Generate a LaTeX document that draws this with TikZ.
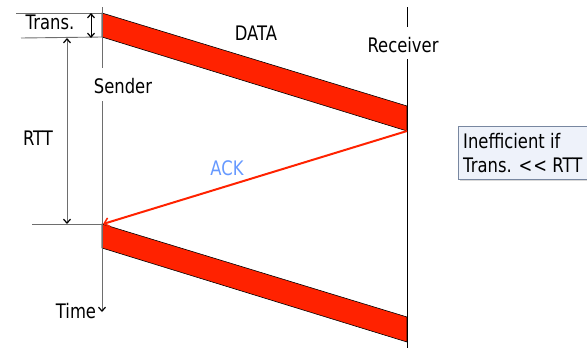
\documentclass[tikz,border=0pt]{standalone}
\usepackage{fontspec}
\setmainfont{DejaVu Sans}[FakeStretch=0.82]
\usetikzlibrary{arrows.meta,shadows}
\definecolor{bandred}{RGB}{255,34,0}
\definecolor{ackblue}{RGB}{102,153,255}
\definecolor{boxfill}{RGB}{238,242,250}
\definecolor{boxline}{RGB}{120,135,160}
\definecolor{axisgrey}{RGB}{110,110,110}
\tikzset{
  lbl/.style={font=\fontsize{20}{24}\selectfont, inner sep=0pt, anchor=base},
  tip/.style={-{Straight Barb[length=4pt,width=7pt,line width=1.2pt,color=black]}},
  tips/.style={{Straight Barb[length=4pt,width=7pt,line width=1.2pt,color=black]}-{Straight Barb[length=4pt,width=7pt,line width=1.2pt,color=black]}},
  band/.style={fill=bandred, draw=black, line width=0.6pt, line join=miter},
  gline/.style={draw=axisgrey, line width=0.9pt},
  bline/.style={draw=black, line width=0.9pt},
}
\begin{document}
\begin{tikzpicture}[x=1pt,y=-1pt]
\useasboundingbox (0,0) rectangle (587,348);
% coordinates
\coordinate (sTop) at (102,7);
\coordinate (sGapA) at (102,68);
\coordinate (sGapB) at (102,101);
\coordinate (sEnd) at (102,312);
\coordinate (rTop) at (407,7);
\coordinate (rGapA) at (407,27);
\coordinate (rGapB) at (407,59);
\coordinate (rEnd) at (407,348);
\coordinate (d1a) at (102,13);
\coordinate (d1b) at (407,106);
\coordinate (d1c) at (407,131);
\coordinate (d1d) at (102,37);
\coordinate (d2a) at (102,224);
\coordinate (d2b) at (407,317);
\coordinate (d2c) at (407,342);
\coordinate (d2d) at (102,248);
\coordinate (t1L) at (16,13);
\coordinate (t2L) at (21,38);
\coordinate (rttL) at (32,224);
\coordinate (ta) at (91,13);
\coordinate (tb) at (91,38);
\coordinate (ra) at (67,38);
\coordinate (rb) at (67,224);
\coordinate (ackEnd) at (103,224);
% bands
\path[band] (d1a) -- (d1b) -- (d1c) -- (d1d) -- cycle;
\path[band] (d2a) -- (d2b) -- (d2c) -- (d2d) -- cycle;
% time lines
\draw[gline] (sTop) -- (sGapA);
\draw[gline, tip] (sGapB) -- (sEnd);
\draw[bline] (rTop) -- (rGapA);
\draw[bline] (rGapB) -- (rEnd);
% horizontal markers
\draw[gline] (t1L) -- (d1a);
\draw[gline] (t2L) -- (d1d);
\draw[gline] (rttL) -- (d2a);
\draw[black, line width=1pt, tips] (ta) -- (tb);
\draw[axisgrey, line width=1pt, tips] (ra) -- (rb);
% ACK
\draw[bandred, line width=2pt, -{Straight Barb[length=5pt,width=9pt,line width=1.5pt]}] (d1c) -- (ackEnd);
% labels
\node[lbl] (trans) at (50,30) {Trans.};
\node[lbl] (sender) at (123,93) {Sender};
\node[lbl] (rtt) at (38,145) {RTT};
\node[lbl] (data) at (256,41) {DATA};
\node[lbl, text=ackblue] (ack) at (227,175) {ACK};
\node[lbl] (time) at (76,318) {Time};
\node[lbl] (recv) at (403,52) {Receiver};
% note box
\node[draw=boxline, fill=boxfill, line width=0.8pt, drop shadow={shadow xshift=2pt, shadow yshift=-2pt, opacity=0.3},
      minimum height=53pt, minimum width=140pt, anchor=north west, inner sep=0pt] (box) at (458,126) {};
\node[lbl, anchor=base west] (in1) at (463,148) {Inefficient if};
\node[lbl, anchor=base west] (in2) at (463,172) {Trans. {<}\kern1pt{<} RTT};
\end{tikzpicture}
\end{document}
